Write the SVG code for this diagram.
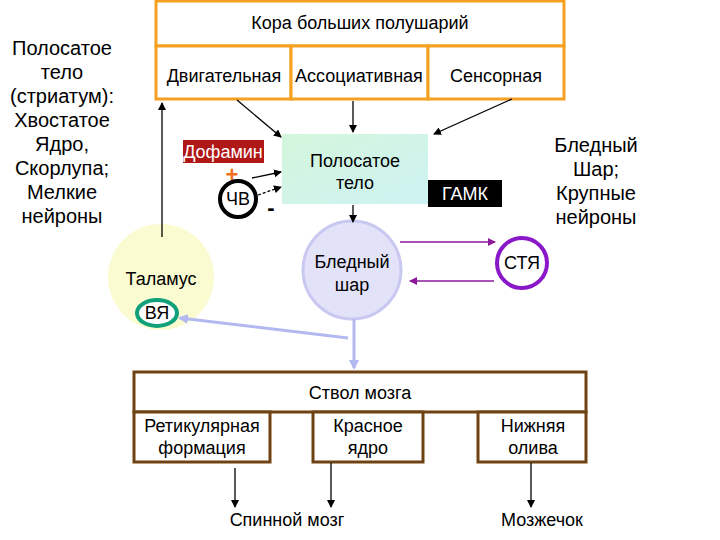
<svg xmlns="http://www.w3.org/2000/svg" width="720" height="540" viewBox="0 0 720 540">
<style>
text{font-family:"Liberation Sans",Arial,sans-serif;font-size:18px;fill:#000;text-anchor:middle}
.big{font-size:20px}
.md{font-size:18px}
.ob{fill:#fff;stroke:#f5a020;stroke-width:3}
.br{fill:#fff;stroke:#6e4212;stroke-width:3}
.k{stroke:#000;stroke-width:1.3;fill:none}
</style>
<defs>
<marker id="ak" markerWidth="8" markerHeight="8" refX="7" refY="4" orient="auto" markerUnits="userSpaceOnUse"><path d="M0,0 L8,4 L0,8 Z" fill="#000"/></marker>
<marker id="ap" markerWidth="8" markerHeight="8" refX="7" refY="4" orient="auto" markerUnits="userSpaceOnUse"><path d="M0,0 L8,4 L0,8 Z" fill="#8a1a9a"/></marker>
<marker id="al" markerWidth="10" markerHeight="10" refX="8" refY="5" orient="auto" markerUnits="userSpaceOnUse"><path d="M0,0 L10,5 L0,10 Z" fill="#b4b8f0"/></marker>
<linearGradient id="gm" x1="0" y1="0" x2="1" y2="1"><stop offset="0" stop-color="#d4f6dc"/><stop offset="1" stop-color="#cdf2f2"/></linearGradient>
</defs>

<g id="left-label">
<text class="big" x="62" y="55">Полосатое</text>
<text class="big" x="62" y="79">тело</text>
<text class="big" x="62" y="103">(стриатум):</text>
<text class="big" x="62" y="127">Хвостатое</text>
<text class="big" x="62" y="151">Ядро,</text>
<text class="big" x="62" y="175">Скорлупа;</text>
<text class="big" x="62" y="199">Мелкие</text>
<text class="big" x="62" y="223">нейроны</text>
</g>

<g id="right-label">
<text class="big" x="596" y="152">Бледный</text>
<text class="big" x="596" y="176">Шар;</text>
<text class="big" x="596" y="200">Крупные</text>
<text class="big" x="596" y="224">нейроны</text>
</g>

<g id="cortex">
<rect class="ob" x="156" y="1" width="408" height="45"/>
<text x="360" y="29">Кора больших полушарий</text>
<rect class="ob" x="156" y="46" width="135" height="53"/>
<rect class="ob" x="291" y="46" width="137" height="53"/>
<rect class="ob" x="428" y="46" width="136" height="53"/>
<text x="224" y="82">Двигательная</text>
<text x="359" y="82">Ассоциативная</text>
<text x="496" y="82">Сенсорная</text>
</g>

<g id="striatum">
<rect x="282" y="134" width="146" height="70" fill="url(#gm)"/>
<text class="md" x="355" y="167">Полосатое</text>
<text class="md" x="355" y="189">тело</text>
</g>

<g id="dopamine">
<rect x="183" y="140" width="81" height="23" fill="#b01818"/>
<text x="223" y="158" style="fill:#fff">Дофамин</text>
<text x="232" y="182" style="fill:#f07020;font-size:22px;font-weight:bold">+</text>
</g>

<g id="chv">
<circle cx="238" cy="199" r="18" fill="#fff" stroke="#000" stroke-width="4"/>
<text class="md" x="238" y="205">ЧВ</text>
<text x="271" y="215" style="font-size:22px;font-weight:bold">-</text>
</g>

<g id="gaba">
<rect x="428" y="180" width="74" height="27" fill="#000"/>
<text x="465" y="200" style="fill:#fff">ГАМК</text>
</g>

<g id="globus">
<circle cx="352" cy="270" r="49" fill="#e2e2f8" stroke="#c8c8f0" stroke-width="3"/>
<text class="md" x="352" y="268">Бледный</text>
<text class="md" x="352" y="291">шар</text>
</g>

<g id="stn">
<circle cx="522" cy="263" r="25" fill="#fff" stroke="#8a18c8" stroke-width="4"/>
<text class="md" x="522" y="269">СТЯ</text>
</g>

<g id="thalamus">
<circle cx="161" cy="277" r="53" fill="#fbfbd2"/>
<text x="161" y="285">Таламус</text>
<ellipse cx="157" cy="313" rx="20" ry="13" fill="#fff" stroke="#10a07a" stroke-width="4"/>
<text class="md" x="157" y="319">ВЯ</text>
</g>

<g id="brainstem">
<rect class="br" x="134" y="372" width="452" height="40"/>
<text x="360" y="399">Ствол мозга</text>
<rect class="br" x="134" y="412" width="136" height="50"/>
<rect class="br" x="313" y="412" width="110" height="50"/>
<rect class="br" x="478" y="412" width="108" height="50"/>
<text class="md" x="202" y="432">Ретикулярная</text>
<text class="md" x="202" y="454">формация</text>
<text class="md" x="368" y="432">Красное</text>
<text class="md" x="368" y="454">ядро</text>
<text class="md" x="533" y="432">Нижняя</text>
<text class="md" x="533" y="454">олива</text>
</g>

<g id="outputs">
<text x="287" y="526">Спинной мозг</text>
<text x="542" y="526">Мозжечок</text>
</g>

<g id="connectors">
<line class="k" x1="162" y1="237" x2="162" y2="103" marker-end="url(#ak)"/>
<line class="k" x1="237" y1="100" x2="281" y2="137" marker-end="url(#ak)"/>
<line class="k" x1="353" y1="101" x2="353" y2="132" marker-end="url(#ak)"/>
<line class="k" x1="512" y1="99" x2="434" y2="134" marker-end="url(#ak)"/>
<line class="k" x1="252" y1="178" x2="281" y2="172" marker-end="url(#ak)"/>
<line class="k" x1="258" y1="195" x2="281" y2="187" stroke-dasharray="3,2" marker-end="url(#ak)"/>
<line class="k" x1="353" y1="205" x2="353" y2="222" marker-end="url(#ak)"/>
<line x1="400" y1="242" x2="495" y2="242" stroke="#8a1a9a" stroke-width="1.3" marker-end="url(#ap)"/>
<line x1="494" y1="281" x2="410" y2="281" stroke="#8a1a9a" stroke-width="1.3" marker-end="url(#ap)"/>
<line x1="348" y1="338" x2="180" y2="318" stroke="#b4b8f0" stroke-width="3" marker-end="url(#al)"/>
<line x1="354" y1="319" x2="354" y2="368" stroke="#b4b8f0" stroke-width="3" marker-end="url(#al)"/>
<line class="k" x1="235" y1="468" x2="235" y2="507" stroke-width="2" marker-end="url(#ak)"/>
<line class="k" x1="331" y1="463" x2="331" y2="507" marker-end="url(#ak)"/>
<line class="k" x1="531" y1="463" x2="531" y2="507" stroke-width="2" marker-end="url(#ak)"/>
</g>
</svg>
